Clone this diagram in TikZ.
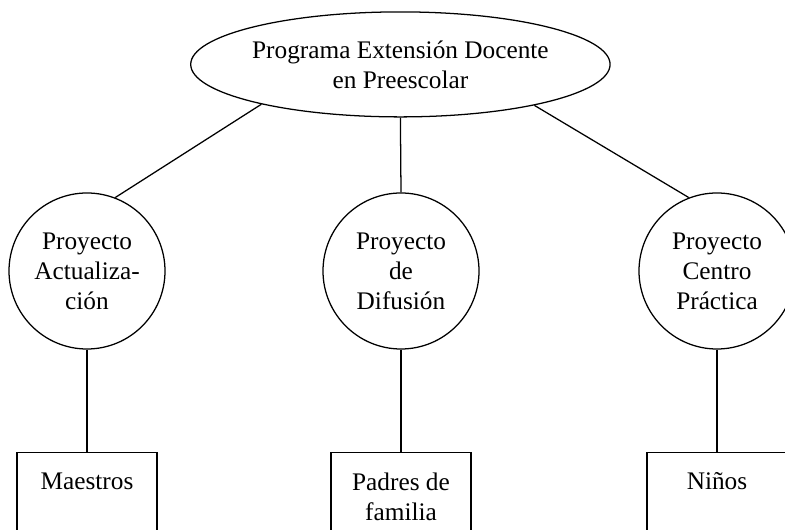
\documentclass[tikz,border=0pt]{standalone}
\usepackage{fontspec}
\setmainfont{Liberation Serif}
\usetikzlibrary{shapes.geometric}

\begin{document}
\begin{tikzpicture}[line width=0.9pt,
        every node/.style={font=\fontsize{18}{21.3}\selectfont, align=center},
        programa/.style={draw, ellipse, minimum width=9.125cm, minimum height=2.625cm, inner sep=0pt},
        proyecto/.style={draw, circle, minimum size=3.9cm, inner sep=0pt},
        grupo/.style={draw, rectangle, anchor=north, minimum width=3.5cm, inner ysep=0.5cm, text depth=2cm}]
        % Frame
        \useasboundingbox (0,0) rectangle (19.625,13.25);
        \clip (0,0) rectangle (19.625,13.25);

        % Programa
        \node[programa] (prog) at (10.01,11.64) {Programa Extensión Docente\\en Preescolar};

        % Proyectos
        \node[proyecto] (act) at (2.175,6.475) {Proyecto\\Actualiza-\\ción};
        \node[proyecto] (dif) at (10.025,6.475) {Proyecto\\de\\Difusión};
        \node[proyecto] (cen) at (17.925,6.475) {Proyecto\\Centro\\Práctica};

        % Grupos
        \node[grupo] (mae) at (2.175,1.95) {Maestros};
        \node[grupo] (pad) at (10.025,1.95) {Padres de\\familia};
        \node[grupo] (nin) at (17.925,1.95) {Niños};

        % Lines
        \draw (prog.196.6) -- (act.69);
        \draw (prog.south) -- (dif.north);
        \draw (prog.343.4) -- (cen.111);

        \draw (act.south) -- (mae.north);
        \draw (dif.south) -- (pad.north);
        \draw (cen.south) -- (nin.north);
\end{tikzpicture}
\end{document}
